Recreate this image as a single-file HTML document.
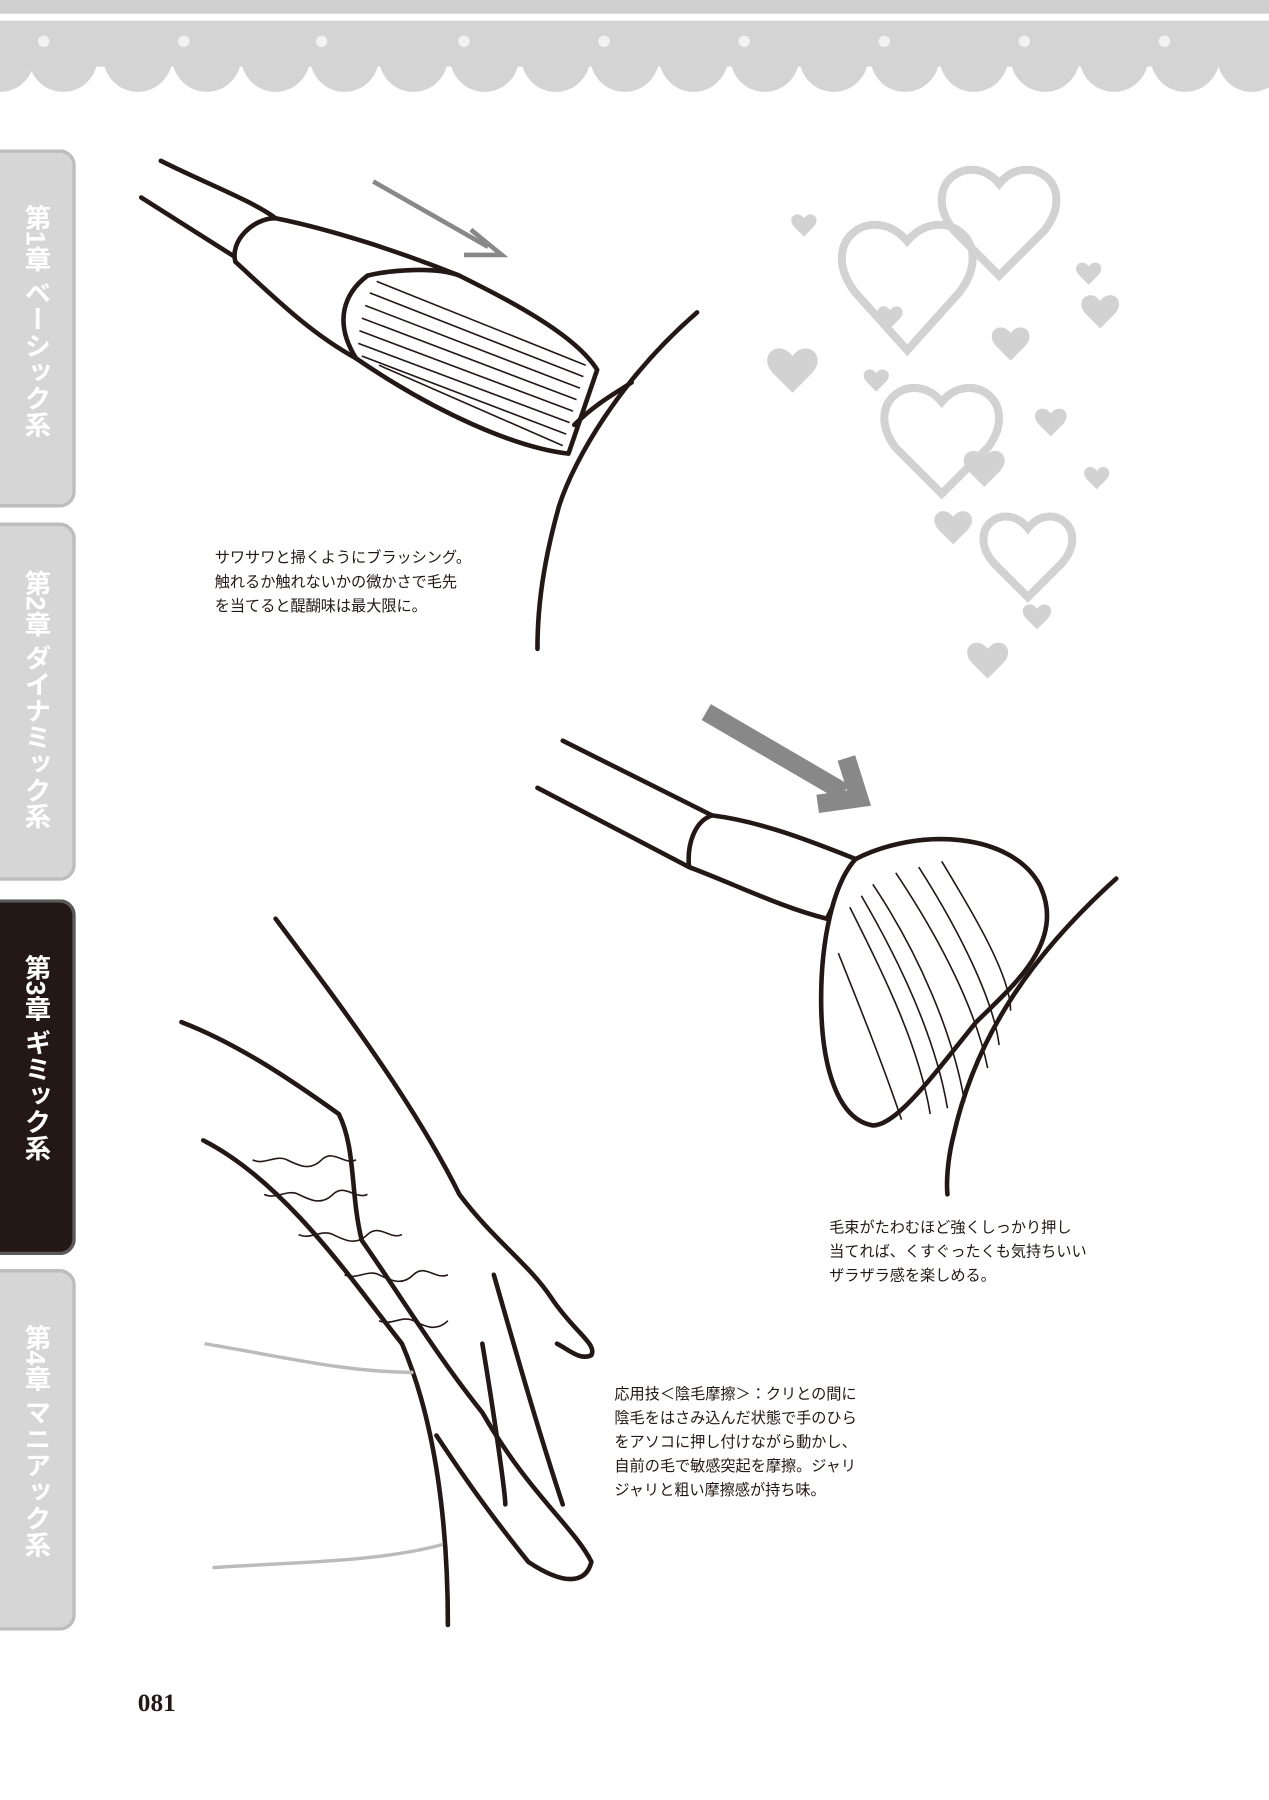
<!DOCTYPE html>
<html><head><meta charset="utf-8"><style>
html,body{margin:0;padding:0;background:#fff;}
body{width:1269px;height:1800px;overflow:hidden;position:relative;}
#c{position:absolute;left:0;top:0;width:1105px;height:1567px;transform:scale(1.14842,1.14842);transform-origin:0 0;font-family:"Liberation Sans","Noto Sans CJK JP",sans-serif;}
.tab{position:absolute;left:0;width:66px;background:#d6d6d6;border:3px solid #bdbdbd;border-left:none;border-radius:0 14px 14px 0;box-sizing:border-box;overflow:hidden;}
.tab.dark{background:#231815;border-color:#5a5a5a;}
.vt{position:absolute;left:16px;top:45px;writing-mode:vertical-rl;color:#fff;font-size:23px;font-weight:bold;line-height:30px;white-space:nowrap;}
.cap{position:absolute;font-size:13.2px;line-height:21px;color:#231815;white-space:nowrap;}
svg{position:absolute;left:0;top:0;}
</style></head><body><div id="c">
<svg width="1105" height="1567" viewBox="0 0 1105 1567">
<rect x="0" y="0" width="1105" height="12" fill="#cfcfcf"/>
<rect x="0" y="18" width="1105" height="40" fill="#d4d4d4"/>
<g fill="#d4d4d4">
<circle cx="55" cy="50" r="30"/><circle cx="120" cy="50" r="30"/><circle cx="180" cy="50" r="30"/><circle cx="240" cy="50" r="30"/><circle cx="300" cy="50" r="30"/><circle cx="360" cy="50" r="30"/><circle cx="422" cy="50" r="30"/><circle cx="484" cy="50" r="30"/><circle cx="544" cy="50" r="30"/><circle cx="604" cy="50" r="30"/><circle cx="666" cy="50" r="30"/><circle cx="726" cy="50" r="30"/><circle cx="788" cy="50" r="30"/><circle cx="848" cy="50" r="30"/><circle cx="910" cy="50" r="30"/><circle cx="970" cy="50" r="30"/><circle cx="1032" cy="50" r="30"/><circle cx="1090" cy="50" r="30"/><circle cx="0" cy="50" r="30"/>
</g>
<g fill="#fff" opacity="0.7">
<circle cx="38" cy="36" r="5"/><circle cx="160" cy="36" r="5"/><circle cx="280" cy="36" r="5"/><circle cx="404" cy="36" r="5"/><circle cx="526" cy="36" r="5"/><circle cx="648" cy="36" r="5"/><circle cx="770" cy="36" r="5"/><circle cx="892" cy="36" r="5"/><circle cx="1014" cy="36" r="5"/>
</g>
<g fill="#d2d2d2">
<path d="M700 190 c-6-8-16 0-8 8 l8 8 8-8 c8-8-2-16-8-8z"/>
<path d="M690 310 c-12-16-32 0-16 16 l16 16 16-16 c16-16-4-32-16-16z"/>
<path d="M880 290 c-9-12-24 0-12 12 l12 12 12-12 c12-12-3-24-12-12z"/>
<path d="M958 262 c-9-12-24 0-12 12 l12 12 12-12 c12-12-3-24-12-12z"/>
<path d="M915 360 c-8-10-20 0-10 10 l10 10 10-10 c10-10-2-20-10-10z"/>
<path d="M857 398 c-10-13-26 0-13 13 l13 13 13-13 c13-13-3-26-13-13z"/>
<path d="M830 450 c-9-12-24 0-12 12 l12 12 12-12 c12-12-3-24-12-12z"/>
<path d="M903 530 c-7-9-18 0-9 9 l9 9 9-9 c9-9-2-18-9-9z"/>
<path d="M860 565 c-10-13-26 0-13 13 l13 13 13-13 c13-13-3-26-13-13z"/>
<path d="M775 270 c-6-8-16 0-8 8 l8 8 8-8 c8-8-2-16-8-8z"/>
<path d="M763 325 c-6-8-16 0-8 8 l8 8 8-8 c8-8-2-16-8-8z"/>
<path d="M955 410 c-6-8-16 0-8 8 l8 8 8-8 c8-8-2-16-8-8z"/>
<path d="M948 232 c-6-8-16 0-8 8 l8 8 8-8 c8-8-2-16-8-8z"/>
</g>
<g fill="none" stroke="#d2d2d2" stroke-width="7">
<path d="M870 160 c-25-30-70 0-40 40 l40 40 40-40 c30-40-15-70-40-40z"/>
<path d="M790 210 c-30-35-80 0-45 45 l45 50 45-50 c35-45-15-80-45-45z"/>
<path d="M820 350 c-25-30-70 0-40 40 l40 40 40-40 c30-40-15-70-40-40z"/>
<path d="M895 460 c-20-25-55 0-30 30 l30 30 30-30 c25-30-10-55-30-30z"/>
</g>
<path d="M325 158 L425 215" stroke="#888" stroke-width="4" fill="none"/>
<path d="M410 200 L437 222 L404 222" stroke="#888" stroke-width="4" fill="none"/>
<path d="M615 620 L735 690" stroke="#888" stroke-width="16" fill="none"/>
<path d="M737 660 L748 695 L712 700" stroke="#888" stroke-width="16" fill="none"/>
<g fill="none" stroke="#231815" stroke-width="4" stroke-linecap="round" stroke-linejoin="round">
<path d="M140 140 C180 160 220 175 240 190"/><path d="M123 172 L205 224"/>
<path d="M240 190 C290 200 350 220 400 240 L310 312 C270 290 240 260 205 228 C200 210 220 190 240 190Z" fill="#fff"/>
<path d="M400 240 C440 260 500 290 520 322 L495 395 C450 390 380 360 310 312 C290 280 300 255 320 240 C340 235 380 232 400 240Z" fill="#fff"/>
<path d="M607 272 C540 330 500 400 487 440 C470 500 468 540 468 565"/>
<path d="M500 370 C520 350 540 340 550 333"/>
<path d="M490 645 L620 710"/><path d="M468 686 L600 755"/>
<path d="M620 710 C660 715 700 730 745 748 L720 800 C680 790 640 770 600 755 C598 735 605 715 620 710Z" fill="#fff"/>
<path d="M745 748 C800 720 880 725 905 770 C930 820 880 860 850 890 C810 940 780 980 760 980 C730 975 715 930 715 870 C715 820 725 770 745 748Z" fill="#fff"/>
<path d="M972 765 C900 830 850 900 830 990 C825 1010 824 1030 825 1040"/>
<path d="M240 800 C300 880 360 960 400 1040 C430 1080 460 1100 480 1130 C500 1160 520 1170 515 1180 C505 1185 495 1175 485 1170"/>
<path d="M158 890 C210 910 260 945 295 970 C310 1000 305 1040 315 1080 C350 1130 380 1180 420 1230 C460 1300 500 1330 515 1360 C510 1380 490 1380 460 1360 C420 1310 400 1280 380 1250"/>
<path d="M430 1110 C450 1180 470 1250 490 1310"/>
<path d="M420 1170 C430 1230 440 1300 440 1310"/>
<path d="M177 993 C250 1030 310 1120 350 1170 C380 1240 390 1330 390 1415"/>
</g>
<g stroke="#231815" stroke-width="1.4" fill="none">
<path d="M328 245 L510 318"/><path d="M322 255 L508 328"/><path d="M318 266 L505 338"/><path d="M315 277 L502 348"/><path d="M313 288 L499 358"/><path d="M312 299 L496 368"/><path d="M315 310 L493 378"/><path d="M330 318 L490 388"/>
<path d="M760 770 C800 830 830 900 840 960"/><path d="M740 790 C770 850 800 910 810 970"/><path d="M780 760 C820 820 850 880 860 930"/><path d="M820 750 C850 800 880 850 880 880"/><path d="M730 830 C750 880 770 930 785 975"/><path d="M800 755 C835 810 865 870 870 910"/><path d="M750 780 C785 840 815 905 825 965"/>
<path d="M220 1010 c10 5 20-5 30 0 s20 10 30 0 s20 5 30 0"/><path d="M230 1040 c10 5 20-5 30 0 s20 10 30 0 s20 5 30 0"/><path d="M260 1075 c10 5 20-5 30 0 s20 10 30 0 s20 5 30 0"/><path d="M300 1110 c10 5 20-5 30 0 s20 10 30 0 s20 5 30 0"/><path d="M330 1150 c10 5 20-5 30 0 s20 10 30 0"/>
</g>
<path d="M178 1170 C240 1180 300 1195 360 1195" stroke="#bbb" stroke-width="3" fill="none"/>
<path d="M185 1365 C260 1360 330 1360 385 1345" stroke="#bbb" stroke-width="3" fill="none"/>
</svg>
<div class="tab" style="top:130px;height:312px;"><div class="vt">第1章 ベーシック系</div></div>
<div class="tab" style="top:455px;height:312px;"><div class="vt" style="top:38px;">第2章 ダイナミック系</div></div>
<div class="tab dark" style="top:783px;height:310px;"><div class="vt">第3章 ギミック系</div></div>
<div class="tab" style="top:1105px;height:315px;"><div class="vt">第4章 マニアック系</div></div>
<div class="cap" style="left:187px;top:475px;">サワサワと掃くようにブラッシング。<br>触れるか触れないかの微かさで毛先<br>を当てると醍醐味は最大限に。</div>
<div class="cap" style="left:722px;top:1058px;">毛束がたわむほど強くしっかり押し<br>当てれば、くすぐったくも気持ちいい<br>ザラザラ感を楽しめる。</div>
<div class="cap" style="left:535px;top:1203px;">応用技＜陰毛摩擦＞：クリとの間に<br>陰毛をはさみ込んだ状態で手のひら<br>をアソコに押し付けながら動かし、<br>自前の毛で敏感突起を摩擦。ジャリ<br>ジャリと粗い摩擦感が持ち味。</div>
<div style="position:absolute;left:120px;top:1470px;font-family:'Liberation Serif',serif;font-weight:bold;font-size:22px;color:#231815;">081</div>
</div></body></html>
